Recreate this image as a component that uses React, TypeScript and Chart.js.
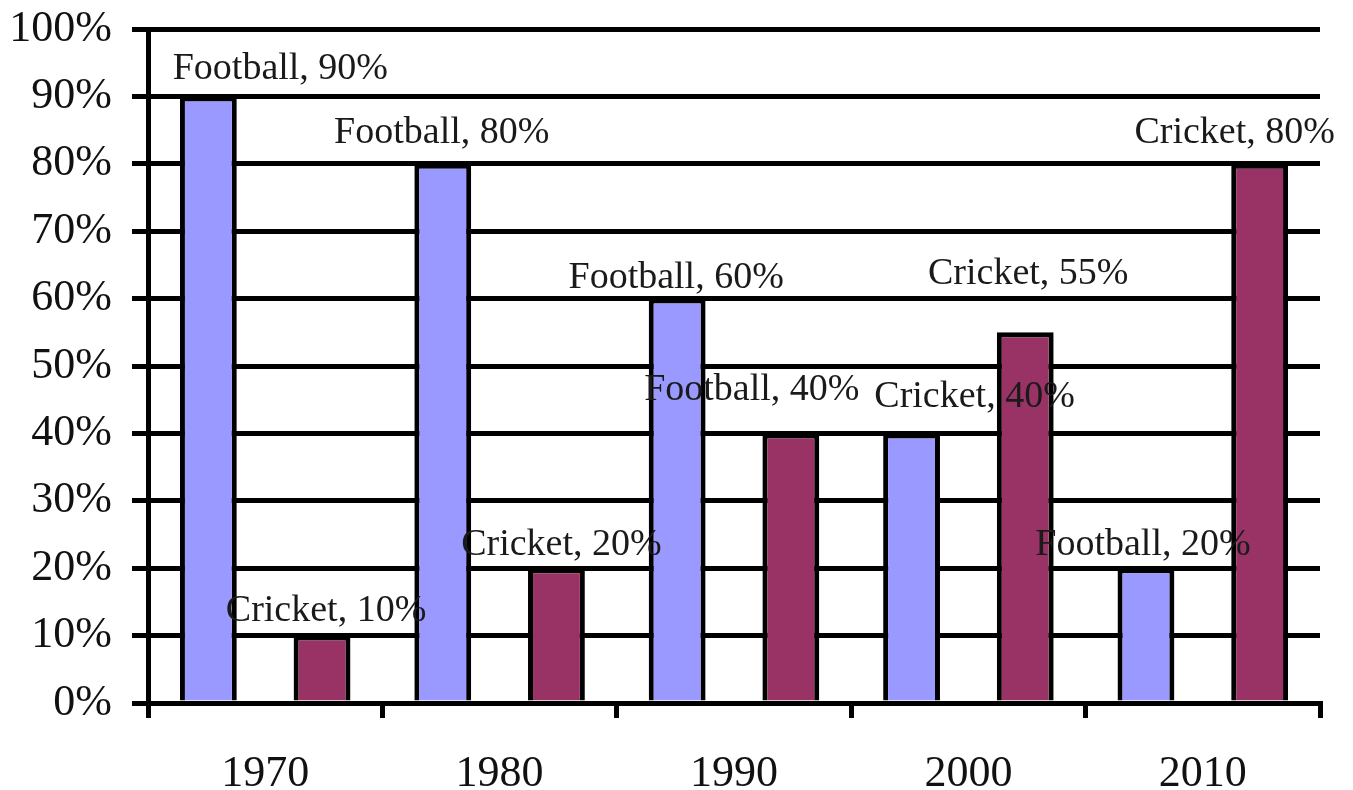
import React, { useEffect, useRef } from "react";
import { Chart, registerables } from "chart.js";

Chart.register(...registerables);

const years = ["1970", "1980", "1990", "2000", "2010"];
const footballValues = [90, 80, 60, 40, 20];
const cricketValues = [10, 20, 40, 55, 80];
const footballLabelNames = ["Football", "Football", "Football", "Cricket", "Football"];
const cricketLabelNames = ["Cricket", "Cricket", "Football", "Cricket", "Cricket"];
const yTicks = [0, 10, 20, 30, 40, 50, 60, 70, 80, 90, 100];

const FONT = "'Liberation Serif', 'Times New Roman', serif";

// pixel nudges for the data labels (style only)
const labelOffsets = [
  [[72, -27], [-1, -31], [-1, -21], [63, -36], [-3, -23]],
  [[4, -25], [5, -23], [-39, -43], [3, -58], [-25, -31]],
];

const labelPlugin = {
  id: "barLabels",
  afterDatasetsDraw(chart: any) {
    const ctx = chart.ctx;
    ctx.save();
    ctx.font = `38px ${FONT}`;
    ctx.fillStyle = "#1a1a1a";
    ctx.textAlign = "center";
    ctx.textBaseline = "middle";
    chart.data.datasets.forEach((ds: any, di: number) => {
      const meta = chart.getDatasetMeta(di);
      const names = di === 0 ? footballLabelNames : cricketLabelNames;
      meta.data.forEach((bar: any, i: number) => {
        const [dx, dy] = labelOffsets[di][i];
        ctx.fillText(`${names[i]}, ${ds.data[i]}%`, bar.x + dx, bar.y + dy);
      });
    });
    ctx.restore();
  },
};

export default function App() {
  const ref = useRef<HTMLCanvasElement>(null);
  useEffect(() => {
    if (!ref.current) return;
    const chart = new Chart(ref.current, {
      type: "bar",
      data: {
        labels: years,
        datasets: [
          {
            label: "Football",
            data: footballValues,
            backgroundColor: "#9999FF",
            borderColor: "#000000",
            borderWidth: 5,
            barPercentage: 0.5,
            categoryPercentage: 0.97,
          },
          {
            label: "Cricket",
            data: cricketValues,
            backgroundColor: "#993366",
            borderColor: "#000000",
            borderWidth: 5,
            barPercentage: 0.5,
            categoryPercentage: 0.97,
          },
        ],
      },
      options: {
        animation: false,
        responsive: false,
        devicePixelRatio: 1,
        layout: { padding: { top: 29, right: 33, left: 0, bottom: 0 } },
        plugins: { legend: { display: false }, tooltip: { enabled: false } },
        scales: {
          x: {
            offset: true,
            grid: {
              offset: true,
              drawOnChartArea: false,
              drawTicks: true,
              tickLength: 15,
              color: "#000000",
              lineWidth: 5,
            },
            border: { display: true, color: "#000000", width: 5 },
            ticks: {
              color: "#111111",
              font: { family: FONT, size: 44 },
              padding: 30,
            },
            afterFit: (s: any) => {
              s.height = 87;
              s.paddingLeft = 0;
              s.paddingRight = 0;
            },
          },
          y: {
            min: 0,
            max: 100,
            afterBuildTicks: (s: any) => {
              s.ticks = yTicks.map((v) => ({ value: v }));
            },
            grid: {
              color: "#000000",
              lineWidth: 5,
              drawTicks: true,
              tickLength: 16,
            },
            border: { display: true, color: "#000000", width: 5 },
            ticks: {
              color: "#111111",
              font: { family: FONT, size: 44 },
              padding: 20,
              callback: (v: any) => `${v}%`,
            },
            afterFit: (s: any) => {
              s.width = 148;
              s.paddingTop = 0;
              s.paddingBottom = 0;
            },
          },
        },
      },
      plugins: [labelPlugin],
    });
    return () => chart.destroy();
  }, []);
  return (
    <div style={{ position: "fixed", left: 0, top: 0, width: 1353, height: 790, background: "#fff" }}>
      <canvas ref={ref} width={1353} height={790} style={{ width: 1353, height: 790 }} />
    </div>
  );
}
